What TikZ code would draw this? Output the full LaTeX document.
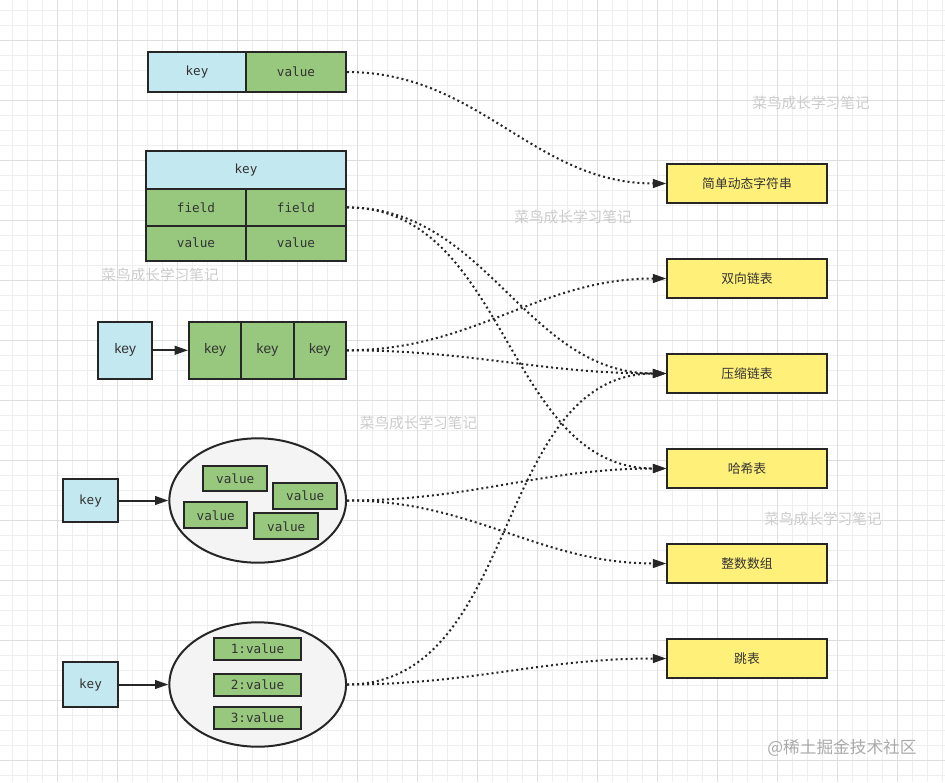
\documentclass[tikz,border=0pt]{standalone}
\usepackage{fontspec}
\setmainfont{Liberation Sans}
\newfontfamily\monof{DejaVu Sans Mono}
\newfontfamily\cjk{Noto Sans CJK SC}
\usetikzlibrary{arrows.meta,shapes.geometric}

\definecolor{kblue}{HTML}{C3E8F0}
\definecolor{vgreen}{HTML}{97C87E}
\definecolor{yel}{HTML}{FFF07A}
\definecolor{elfill}{HTML}{F4F4F4}
\definecolor{edgec}{HTML}{262626}
\definecolor{txt}{HTML}{333333}
\definecolor{gminor}{HTML}{EEEEEE}
\definecolor{gmajor}{HTML}{DEDEDE}
\definecolor{wm}{HTML}{CCCCCC}
\definecolor{wm2}{HTML}{AAAAAA}

\tikzset{
 sz/.style 2 args={minimum width=#1*0.75pt, minimum height=#2*0.75pt},
 cell/.style={draw=edgec, line width=1.5pt, inner sep=0pt, text=txt, font=\monof\fontsize{9.5}{11}\selectfont},
 bluecell/.style={cell, fill=kblue},
 greencell/.style={cell, fill=vgreen},
 sanskey/.style={font=\fontsize{10.4}{12}\selectfont},
 ybox/.style={draw=edgec, line width=1.5pt, fill=yel, inner sep=0pt, sz={159.4}{39}, text=txt, font=\cjk\fontsize{9.6}{11}\selectfont},
 ell/.style={ellipse, draw=edgec, line width=1.5pt, fill=elfill, inner sep=0pt, sz={176.7}{124.4}},
 link/.style={draw=edgec, line width=1.5pt, dash pattern=on 1.5pt off 2.25pt, -{Triangle[length=10pt,width=6.5pt]}},
 solidarrow/.style={draw=edgec, line width=1.5pt, line cap=butt, -{Triangle[length=10pt,width=6.5pt]}},
 wmark/.style={text=wm, font=\cjk\fontsize{11}{13}\selectfont, inner sep=0pt},
}

\begin{document}
\begin{tikzpicture}[x=0.75pt,y=-0.75pt]
\useasboundingbox (0,0) rectangle (945,782);
\fill[white] (0,0) rectangle (945,782);
% grid
\foreach \x in {12.5,27.5,...,942.5} \draw[gminor, line width=0.75pt] (\x,0) -- (\x,782);
\foreach \y in {10.5,25.5,...,780.5} \draw[gminor, line width=0.75pt] (0,\y) -- (945,\y);
\foreach \x in {57.5,117.5,...,942.5} \draw[gmajor, line width=0.75pt] (\x,0) -- (\x,782);
\foreach \y in {40.5,100.5,...,780.5} \draw[gmajor, line width=0.75pt] (0,\y) -- (945,\y);

% watermarks
\node[wmark] (w1) at (811,103) {菜鸟成长学习笔记};
\node[wmark] (w2) at (573,216.5) {菜鸟成长学习笔记};
\node[wmark] (w3) at (160,275) {菜鸟成长学习笔记};
\node[wmark] (w4) at (418.5,422.5) {菜鸟成长学习笔记};
\node[wmark] (w5) at (823,519) {菜鸟成长学习笔记};
\node[text=wm2, font=\cjk\fontsize{12.5}{14}\selectfont, inner sep=0pt] (w6) at (842,748) {@稀土掘金技术社区};

% string
\node[bluecell, sz={98}{40}] (k1) at (197,72) {key};
\node[greencell, sz={100}{40}] (v1) at (296,72) {value};

% hash
\node[bluecell, sz={200}{38}] (hk) at (246,170) {key};
\node[greencell, sz={100}{36.7}] (hf1) at (196,207.4) {field};
\node[greencell, sz={100}{36.7}] (hf2) at (296,207.4) {field};
\node[greencell, sz={100}{35}] (hv1) at (196,243.2) {value};
\node[greencell, sz={100}{35}] (hv2) at (296,243.2) {value};

% list
\node[bluecell, sz={54}{57}, sanskey] (lk) at (125.3,350.3) {key};
\node[greencell, sz={52.3}{57}, sanskey] (l1) at (215.2,350.3) {key};
\node[greencell, sz={52.3}{57}, sanskey] (l2) at (267.5,350.3) {key};
\node[greencell, sz={52.3}{57}, sanskey] (l3) at (319.8,350.3) {key};

% set
\node[bluecell, sz={55.6}{43.7}] (sk) at (90.5,500.5) {key};
\node[ell] (se) at (257.7,500.5) {};
\node[greencell, sz={64}{25.3}] (s1) at (235.3,478.3) {value};
\node[greencell, sz={64}{25.7}] (s2) at (305.3,496.2) {value};
\node[greencell, sz={63}{26}] (s3) at (215.8,515.3) {value};
\node[greencell, sz={64.3}{26}] (s4) at (286.2,526.3) {value};

% zset
\node[bluecell, sz={55.6}{45}] (zk) at (90.5,684.5) {key};
\node[ell] (ze) at (257.7,684.5) {};
\node[greencell, sz={86.4}{22.3}] (z1) at (257.5,648.8) {1:value};
\node[greencell, sz={86.4}{22.3}] (z2) at (257.5,685) {2:value};
\node[greencell, sz={86.4}{22.3}] (z3) at (257.5,717.8) {3:value};

% encodings
\node[ybox] (t1) at (747,183.5) {简单动态字符串};
\node[ybox] (t2) at (747,278.5) {双向链表};
\node[ybox] (t3) at (747,373.5) {压缩链表};
\node[ybox] (t4) at (747,468.5) {哈希表};
\node[ybox] (t5) at (747,563.5) {整数数组};
\node[ybox] (t6) at (747,658.5) {跳表};

% connectors
\draw[solidarrow] (lk.east) -- (l1.west);
\draw[solidarrow] (sk.east) -- (se.west);
\draw[solidarrow] (zk.east) -- (ze.west);

\draw[link] (v1.east) to[out=0,in=180] (t1.west);
\draw[link] (hf2.east) to[out=0,in=180] (t3.west);
\draw[link] (hf2.east) to[out=0,in=180] (t4.west);
\draw[link] (l3.east) to[out=0,in=180] (t2.west);
\draw[link] (l3.east) to[out=0,in=180] (t3.west);
\draw[link] (se.east) to[out=0,in=180] (t4.west);
\draw[link] (se.east) to[out=0,in=180] (t5.west);
\draw[link] (ze.east) to[out=0,in=180] (t3.west);
\draw[link] (ze.east) to[out=0,in=180] (t6.west);
\end{tikzpicture}
\end{document}
